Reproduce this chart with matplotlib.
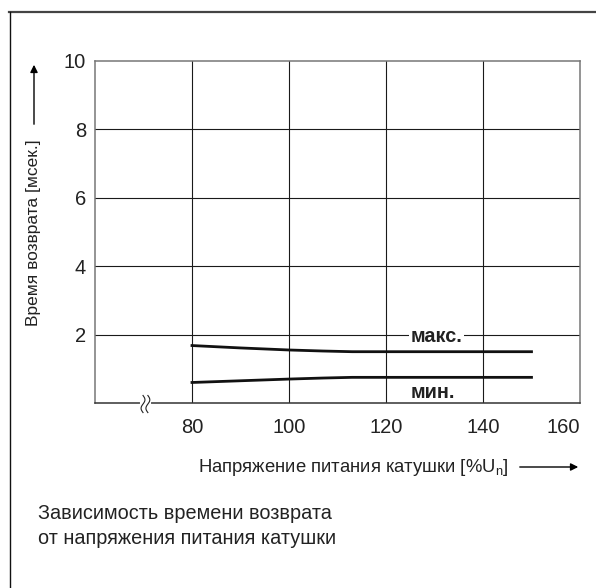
import numpy as np
import matplotlib
matplotlib.use("Agg")
import matplotlib.pyplot as plt
from matplotlib.lines import Line2D
from matplotlib.patches import FancyArrowPatch

plt.rcParams['font.family'] = ['Liberation Sans', 'DejaVu Sans']

# data
volt_max = [80, 90, 100, 107, 113, 130, 150]
t_max = [1.68, 1.61, 1.55, 1.52, 1.50, 1.50, 1.50]
volt_min = [80, 90, 100, 107, 113, 130, 150]
t_min = [0.60, 0.65, 0.70, 0.73, 0.75, 0.75, 0.75]
xticks = [80, 100, 120, 140, 160]
yticks = [2, 4, 6, 8, 10]
ylabel = "Время возврата [мсек.]"
xlabel = "Напряжение питания катушки [%U$_\\mathregular{n}$]"
caption = "Зависимость времени возврата\nот напряжения питания катушки"

W, H = 596, 588
fig = plt.figure(figsize=(W / 100, H / 100), dpi=100)
ax = fig.add_axes([95 / W, 1 - 403 / H, (580 - 95) / W, (403 - 61) / H])
ax.set_xlim(60, 160)
ax.set_ylim(0, 10)

for x in xticks[:-1]:
    ax.axvline(x, color='#1a1a1a', lw=0.8, zorder=1)
for y in yticks[:-1]:
    ax.axhline(y, color='#1a1a1a', lw=0.8, zorder=1)

ax.plot(volt_max, t_max, color='#111111', lw=2.0, zorder=3)
ax.plot(volt_min, t_min, color='#111111', lw=2.0, zorder=3)

ax.text(130.4, 1.93, "макс.", fontsize=14.3, fontweight='bold', ha='center', va='center',
        color='#222222', bbox=dict(facecolor='white', edgecolor='none', pad=1.5), zorder=4)
ax.text(129.6, 0.30, "мин.", fontsize=14.3, fontweight='bold', ha='center', va='center',
        color='#222222', zorder=4)

ax.set_xticks(xticks)
ax.set_xticklabels([str(v) for v in xticks])
ax.set_yticks(yticks)
ax.set_yticklabels([str(v) for v in yticks])
ax.tick_params(axis='x', length=0, pad=11, labelsize=14.5, colors='#222222')
ax.tick_params(axis='y', length=0, pad=6.5, labelsize=14.5, colors='#222222')
ax.get_xticklabels()[-1].set_ha('right')
for s in ax.spines.values():
    s.set_color('#777777')
    s.set_linewidth(1.1)
ax.spines['bottom'].set_color('#333333')

# axis break marks
t = np.linspace(-1, 1, 40)
for xc in (69.9, 70.9):
    ax.plot(xc + 0.4 * np.sin(np.pi * t), -0.03 + 0.25 * t, color='#222222', lw=0.8,
            clip_on=False, zorder=5)
ax.plot([69.4, 71.4], [0, 0], color='white', lw=1.5, zorder=4, clip_on=False)

# y label with arrow
fig.text(34 / W, 1 - 233 / H, ylabel, rotation=90, ha='center', va='center',
         fontsize=12.5, color='#222222')
fig.add_artist(FancyArrowPatch((34 / W, 1 - 127 / H), (34 / W, 1 - 62 / H),
               transform=fig.transFigure, arrowstyle='-|>', mutation_scale=11,
               color='black', lw=1.0))

# x label with arrow
fig.text(198 / W, 1 - 467 / H, xlabel, ha='left', va='center', fontsize=13.3, color='#222222')
fig.add_artist(FancyArrowPatch((517 / W, 1 - 467 / H), (581 / W, 1 - 467 / H),
               transform=fig.transFigure, arrowstyle='-|>', mutation_scale=11,
               color='black', lw=1.0))

# caption
for i, line in enumerate(caption.split("\n")):
    fig.text(38 / W, 1 - (519 + 25 * i) / H, line, ha='left', va='baseline', fontsize=14.3,
             color='#222222')

# frame
fig.add_artist(Line2D([9 / W, 1], [1 - 12 / H, 1 - 12 / H], transform=fig.transFigure,
                      color='#444444', lw=1.6))
fig.add_artist(Line2D([10 / W, 10 / W], [0, 1 - 12 / H], transform=fig.transFigure,
                      color='#111111', lw=1.0))

fig.savefig("out.png", dpi=100)
